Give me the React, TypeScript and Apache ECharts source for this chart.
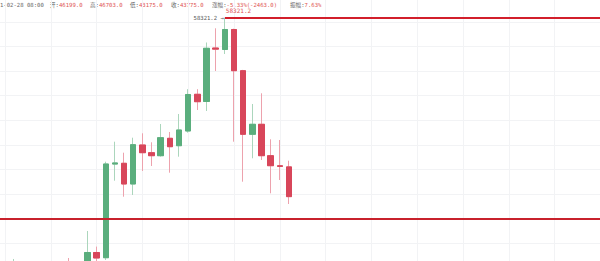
import React, { useEffect, useRef } from 'react';
import * as echarts from 'echarts';

// Daily candles (visible portion of the chart)
const dates = [
  '2021-01-28', '2021-01-29', '2021-01-30', '2021-01-31', '2021-02-01', '2021-02-02',
  '2021-02-03', '2021-02-04', '2021-02-05', '2021-02-06', '2021-02-07', '2021-02-08',
  '2021-02-09', '2021-02-10', '2021-02-11', '2021-02-12', '2021-02-13', '2021-02-14',
  '2021-02-15', '2021-02-16', '2021-02-17', '2021-02-18', '2021-02-19', '2021-02-20',
  '2021-02-21', '2021-02-22', '2021-02-23', '2021-02-24', '2021-02-25', '2021-02-26',
  '2021-02-27', '2021-02-28',
];
const opens = [30400, 33400, 34280, 34300, 33100, 33500, 35500, 37600, 36900, 38300, 39226, 38800, 46430, 46491, 44805, 47982, 47354, 47110, 48527, 47925, 49122, 52111, 51525, 55880, 55760, 57389, 54033, 48853, 49668, 47110, 46290, 46199];
const closes = [33400, 34300, 34320, 33100, 33500, 35500, 37600, 36900, 38300, 39226, 38778, 46434, 46520, 44805, 48006, 47354, 47110, 48576, 47843, 49203, 52095, 51508, 55858, 55790, 57389, 54033, 48853, 49668, 47110, 46296, 46238, 43775];
const lows = [29900, 32000, 32900, 32300, 32300, 33400, 35400, 36200, 36600, 38100, 37400, 38615, 45074, 43771, 43909, 45864, 46271, 47029, 45725, 47029, 48984, 50832, 50751, 54009, 55394, 48250, 44992, 46898, 46760, 44047, 45131, 43175];
const highs = [33700, 38697, 34900, 34700, 34700, 35900, 37700, 38778, 38350, 40977, 39706, 46621, 48250, 47354, 48576, 48935, 48202, 49692, 49040, 50507, 52527, 52527, 56330, 57487, 58321.2, 57454, 54100, 51321, 52193, 48446, 48389, 46703];

const futureSlots = 34; // empty slots on the right
const lowerLineValue = 41950; // horizontal price line

// header (hovered candle info) — as visible in the cropped view
const headerTime = '1-02-28 08:00';
const headerItems: [string, string][] = [
  ['开:', '46199.0'],
  ['高:', '46703.0'],
  ['低:', '43175.0'],
  ['收:', '43775.0'],
  ['涨幅:', '-5.33%(-2463.0)'],
  ['振幅:', '7.63%'],
];

const UP = '#5aae7d';
const DOWN = '#d8465a';
const UP_WICK = '#abd6bc';
const DOWN_WICK = '#eda2ad';
const LINE_RED = '#d21f2b';
const MONO = "'DejaVu Sans Mono', 'Noto Sans CJK SC', monospace";

export default function App() {
  const ref = useRef<HTMLDivElement>(null);
  useEffect(() => {
    if (!ref.current) return;
    const chart = echarts.init(ref.current, undefined, { renderer: 'svg' });

    const future: string[] = [];
    for (let i = 1; i <= futureSlots; i++) future.push('f' + i);
    const cats = ['pre', ...dates, ...future];
    const empty = ['-', '-', '-', '-'];
    const full = [empty, ...dates.map((_, i) => [opens[i], closes[i], lows[i], highs[i]])];
    const bodies = [
      empty,
      ...dates.map((_, i) => [opens[i], closes[i], Math.min(opens[i], closes[i]), Math.max(opens[i], closes[i])]),
    ];
    const maxHigh = Math.max(...highs);
    const maxIdx = highs.indexOf(maxHigh);
    const maxStr = maxHigh.toFixed(1);

    const headerX = [0, 50, 90, 130, 171, 212, 290];
    const graphics: any[] = [
      { type: 'text', x: headerX[0], y: 5, style: { text: headerTime, fill: '#666', font: `5.6px ${MONO}`, verticalAlign: 'middle' } },
    ];
    headerItems.forEach(([label, val], k) => {
      graphics.push({
        type: 'text', x: headerX[k + 1], y: 5,
        style: {
          text: `{l|${label}}{v|${val}}`, verticalAlign: 'middle',
          rich: {
            l: { fill: '#666', font: `5.6px ${MONO}` },
            v: { fill: '#e0524f', font: `5.6px ${MONO}` },
          },
        },
      });
    });

    chart.setOption({
      animation: false,
      grid: { left: -4.16, width: 604.56, top: -2.56, height: 270.1, outerBoundsMode: 'none', containLabel: false },
      xAxis: {
        type: 'category',
        data: cats,
        boundaryGap: false,
        axisLine: { show: false },
        axisTick: { show: false },
        axisLabel: { show: false },
        splitLine: {
          show: true,
          interval: (idx: number) => idx % 5 === 1,
          lineStyle: { color: '#f2f3f5', width: 1 },
        },
      },
      yAxis: {
        type: 'value',
        min: 38000,
        max: 60000,
        interval: 2000,
        axisLine: { show: false },
        axisTick: { show: false },
        axisLabel: { show: false },
        splitLine: { show: true, lineStyle: { color: '#f2f3f5', width: 1 } },
      },
      graphic: graphics,
      series: [
        {
          type: 'candlestick',
          data: full,
          barWidth: 6,
          itemStyle: { color: UP_WICK, color0: DOWN_WICK, borderColor: UP_WICK, borderColor0: DOWN_WICK, borderWidth: 1 },
        },
        {
          type: 'candlestick',
          data: bodies,
          barWidth: 6,
          itemStyle: { color: UP, color0: DOWN, borderColor: UP, borderColor0: DOWN, borderWidth: 1 },
          markLine: {
            silent: true,
            symbol: ['none', 'none'],
            data: [
              [
                {
                  coord: [cats[maxIdx + 1], maxHigh],
                  lineStyle: { color: LINE_RED, width: 2, type: 'solid' },
                  label: {
                    show: true, position: 'insideStartTop', formatter: maxStr,
                    color: '#e0524f', fontSize: 6, fontFamily: MONO, distance: [1, 5],
                  },
                },
                { coord: [cats[cats.length - 1], maxHigh] },
              ],
              {
                yAxis: lowerLineValue,
                lineStyle: { color: '#c8212c', width: 2, type: 'solid' },
                label: { show: false },
              },
            ],
          },
          markPoint: {
            silent: true,
            data: [
              {
                coord: [cats[maxIdx + 1], maxHigh],
                symbol: 'circle',
                symbolSize: 0,
                label: {
                  show: true, position: 'left', distance: 1,
                  formatter: `${maxStr} →`, color: '#555', fontSize: 5.6, fontFamily: MONO,
                },
              },
            ],
          },
        },
      ],
    });
    return () => chart.dispose();
  }, []);
  return <div ref={ref} style={{ position: 'fixed', left: 0, top: 0, width: 600, height: 261, background: '#fff' }} />;
}
